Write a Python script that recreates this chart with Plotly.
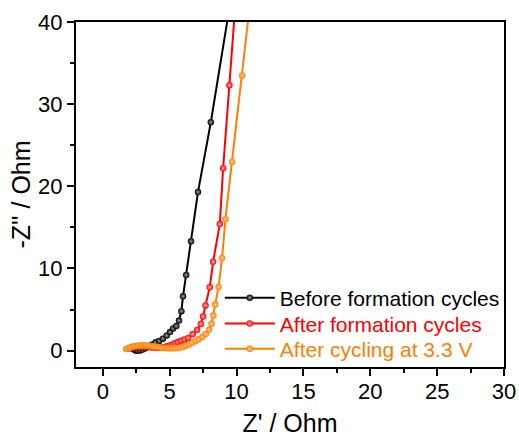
import plotly.graph_objects as go

# Before formation cycles (black)
x_before = [2.3, 2.45, 2.6, 2.78, 2.98, 3.2, 3.45, 3.7, 3.95, 4.22, 4.5, 4.78, 5.03, 5.26, 5.5, 5.7, 5.88, 6.0, 6.24, 6.6, 7.12, 8.08, 9.6]
y_before = [0.15, 0.02, -0.03, 0.02, 0.12, 0.28, 0.5, 0.75, 1.0, 1.18, 1.45, 1.85, 2.25, 2.7, 3.0, 3.65, 4.8, 6.6, 9.2, 13.3, 19.3, 27.8, 43]

# After formation cycles (red)
x_after = [1.95, 2.08, 2.22, 2.37, 2.52, 2.68, 2.85, 3.02, 3.2, 3.38, 3.56, 3.74, 3.92, 4.1, 4.28, 4.46, 4.64, 4.82, 5.0, 5.2, 5.4, 5.62, 5.85, 6.1, 6.38, 6.72, 7.05, 7.33, 7.5, 7.68, 8.0, 8.25, 8.75, 9.0, 9.47, 10.0]
y_after = [0.25, 0.33, 0.4, 0.45, 0.48, 0.5, 0.5, 0.49, 0.47, 0.44, 0.41, 0.38, 0.36, 0.35, 0.36, 0.39, 0.44, 0.52, 0.62, 0.74, 0.88, 1.03, 1.2, 1.36, 1.54, 2.0, 2.5, 3.24, 4.15, 5.5, 7.7, 10.8, 15.4, 22.2, 32.3, 44]

# After cycling at 3.3 V (orange)
x_cyc = [1.75, 1.9, 2.05, 2.2, 2.35, 2.5, 2.65, 2.8, 2.95, 3.1, 3.25, 3.4, 3.55, 3.7, 3.85, 4.0, 4.15, 4.3, 4.45, 4.6, 4.75, 4.9, 5.05, 5.2, 5.38, 5.58, 5.78, 6.0, 6.22, 6.45, 6.7, 6.95, 7.2, 7.46, 7.7, 7.95, 8.13, 8.27, 8.4, 8.66, 8.92, 9.17, 9.67, 10.42, 11.2]
y_cyc = [0.2, 0.3, 0.38, 0.46, 0.52, 0.57, 0.6, 0.62, 0.63, 0.63, 0.62, 0.6, 0.57, 0.54, 0.5, 0.46, 0.42, 0.38, 0.35, 0.32, 0.3, 0.28, 0.27, 0.27, 0.28, 0.31, 0.36, 0.45, 0.58, 0.75, 0.95, 1.18, 1.42, 1.68, 2.03, 2.52, 3.26, 4.27, 5.6, 7.75, 11.26, 16.0, 23.0, 33.5, 45]

names = ["Before formation cycles", "After formation cycles", "After cycling at 3.3 V"]
colors = ["#000000", "#FF0000", "#FF8000"]
highlights = ["#9a9a9a", "#ffb0b0", "#ffd0a0"]
series = [(x_before, y_before), (x_after, y_after), (x_cyc, y_cyc)]
legend_ids = ["legend", "legend2", "legend3"]
legend_y = [0.20, 0.125, 0.052]

FONT = "Arial, Liberation Sans, sans-serif"

fig = go.Figure()
for (xs, ys), nm, c, h, lid in zip(series, names, colors, highlights, legend_ids):
    fig.add_trace(go.Scatter(
        x=xs, y=ys, mode="lines+markers",
        name=f'<span style="color:{c}">{nm}</span>',
        legend=lid,
        line=dict(color=c, width=2),
        marker=dict(color=c, size=6.5, symbol="circle", line=dict(width=0),
                    gradient=dict(type="radial", color=h)),
    ))

axis_common = dict(
    showline=True, linecolor="black", linewidth=2, mirror=True,
    ticks="outside", ticklen=7, tickwidth=1.5, tickcolor="black",
    showgrid=False, zeroline=False, automargin=False,
    tickfont=dict(family=FONT, size=22, color="black"),
)

fig.update_xaxes(
    range=[-2, 30], dtick=5, tick0=0,
    minor=dict(dtick=2.5, tick0=0, ticks="outside", ticklen=4, tickwidth=1.5, tickcolor="black"),
    title=dict(text="Z' / Ohm", font=dict(family=FONT, size=25, color="black"), standoff=14),
    ticklabelstandoff=-3,
    **axis_common,
)
fig.update_yaxes(
    range=[-2, 40], dtick=10, tick0=0,
    minor=dict(dtick=5, tick0=0, ticks="outside", ticklen=4, tickwidth=1.5, tickcolor="black"),
    title=dict(text="-Z'' / Ohm", font=dict(family=FONT, size=25, color="black"), standoff=0),
    **axis_common,
)

legend_common = dict(
    x=0.336, xanchor="left", yanchor="middle",
    bgcolor="rgba(0,0,0,0)", borderwidth=0,
    font=dict(family=FONT, size=21, color="black"),
    itemwidth=50,
)

fig.update_layout(
    width=519, height=437,
    margin=dict(l=76, r=15, t=22, b=70),
    plot_bgcolor="white", paper_bgcolor="white",
    showlegend=True,
    legend=dict(y=legend_y[0], **legend_common),
    legend2=dict(y=legend_y[1], **legend_common),
    legend3=dict(y=legend_y[2], **legend_common),
)

fig.write_html("out.html")
